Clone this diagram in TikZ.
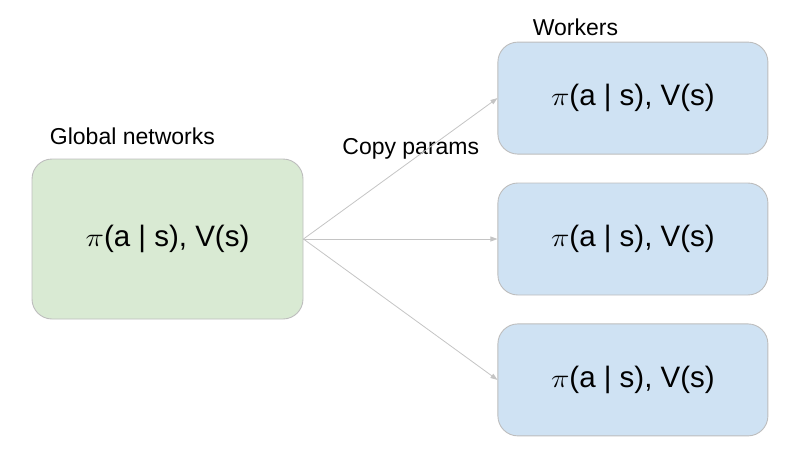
\documentclass[tikz,border=0pt]{standalone}
\usepackage{fontspec}
\usepackage{graphicx}
\setmainfont{Liberation Sans}
\usetikzlibrary{positioning,arrows.meta}
\definecolor{netgreen}{HTML}{D9EAD3}
\definecolor{workerblue}{HTML}{CFE2F3}
\definecolor{edgegray}{HTML}{BDBDBD}
\definecolor{copygray}{HTML}{C4C4C4}
\newcommand{\polval}{\scalebox{1.25}[1.05]{$\pi$}(a | s), V(s)}

\begin{document}
\begin{tikzpicture}[x=1pt,y=-1pt,>={Triangle[length=7pt,width=5pt]},thick,
    net node/.style={rectangle,rounded corners=20pt,draw=edgegray,line width=0.9pt,inner sep=0pt,font=\fontsize{29.5}{34}\selectfont},
    global node/.style={net node,fill=netgreen,minimum width=271pt,minimum height=160pt},
    worker node/.style={net node,fill=workerblue,minimum width=270pt,minimum height=112pt},
    label node/.style={font=\fontsize{23}{27}\selectfont,inner sep=0pt},
    copy edge/.style={->,draw=copygray,line width=0.8pt}]

                    \useasboundingbox (0,0) rectangle (810,466);

                    \node[global node] (global) at (167.5,239) {\polval};
                    \node[worker node] (w2) [right=194pt of global] {\polval};
                    \node[worker node] (w1) [above=28pt of w2] {\polval};
                    \node[worker node] (w3) [below=28pt of w2] {\polval};

                    \node[label node, anchor=base west] (globallabel) at ([xshift=18pt,yshift=14pt]global.north west) {Global networks};
                    \node[label node, anchor=base west] (workerlabel) at ([xshift=35pt,yshift=6pt]w1.north west) {Workers};
                    \node[label node, anchor=base west] (copylabel) at (342,154) {Copy params};

                    \draw[copy edge] (global.east) to (w1.west);
                    \draw[copy edge] (global.east) to (w2.west);
                    \draw[copy edge] (global.east) to (w3.west);

                    ;
                \end{tikzpicture}
\end{document}
